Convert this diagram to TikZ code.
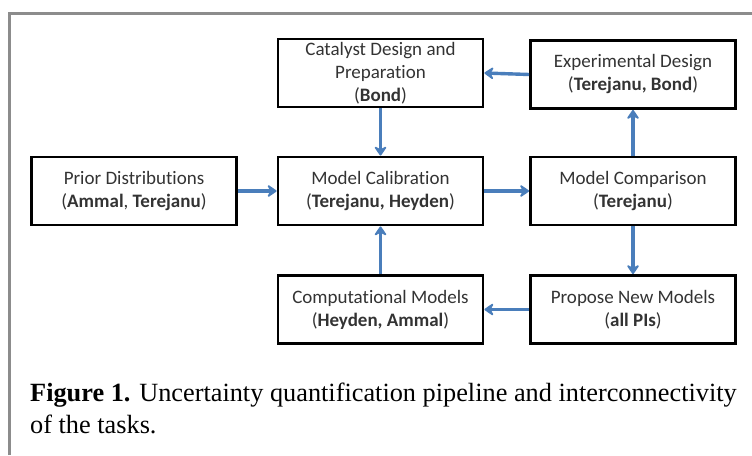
\documentclass[tikz,border=0pt]{standalone}
\usepackage{fontspec}
\setmainfont{Carlito}[Ligatures={NoCommon}]
\newfontfamily\capfont{Liberation Serif}
\usetikzlibrary{arrows.meta}
\definecolor{arrowblue}{HTML}{4A7EBB}
\definecolor{boxtext}{HTML}{333333}
\definecolor{framegray}{HTML}{8C8C8C}
\tikzset{
  taskbox/.style={draw=black, line width=2.8pt, minimum width=205pt, minimum height=68pt,
    align=center, inner sep=0pt, text=boxtext,
    font=\fontsize{19}{23}\selectfont},
  flow/.style={draw=arrowblue, line width=3.4pt,
    -{Stealth[length=11pt,width=15pt,inset=4pt,round]}},
}
\begin{document}
\begin{tikzpicture}[x=1pt,y=-1pt]
\useasboundingbox (0,0) rectangle (752,455);
\draw[framegray, line width=3pt] (9,455) -- (9,13) -- (752,13);
\node[taskbox] (cat) at (380.5,73) {Catalyst Design and\\Preparation\\(\textbf{Bond})};
\node[taskbox] (exp) at (633,74.5) {Experimental Design\\(\textbf{Terejanu, Bond})};
\node[taskbox] (prior) at (134,191) {Prior Distributions\\(\textbf{Ammal}, \textbf{Terejanu})};
\node[taskbox] (cal) at (380.5,191) {Model Calibration\\(\textbf{Terejanu, Heyden})};
\node[taskbox] (cmp) at (633,191) {Model Comparison\\(\textbf{Terejanu})};
\node[taskbox] (comp) at (380.5,309.5) {Computational Models\\(\textbf{Heyden, Ammal})};
\node[taskbox] (prop) at (633,309.5) {Propose New Models\\(\textbf{all PIs})};
\draw[flow] (exp.west) -- (cat.east);
\draw[flow] (cmp.north) -- (exp.south);
\draw[flow] (prior.east) -- (cal.west);
\draw[flow] (cal.east) -- (cmp.west);
\draw[flow] (cmp.south) -- (prop.north);
\draw[flow] (prop.west) -- (comp.east);
\draw[flow] (comp.north) -- (cal.south);
\draw[flow] (cat.south) -- (cal.north);
\node[anchor=base west, inner sep=0pt, align=left, font=\capfont\fontsize{26.3}{32}\selectfont] (cap) at (30,433)
  {\textbf{Figure 1.} Uncertainty quantification pipeline and interconnectivity\\of the tasks.};
\end{tikzpicture}
\end{document}
